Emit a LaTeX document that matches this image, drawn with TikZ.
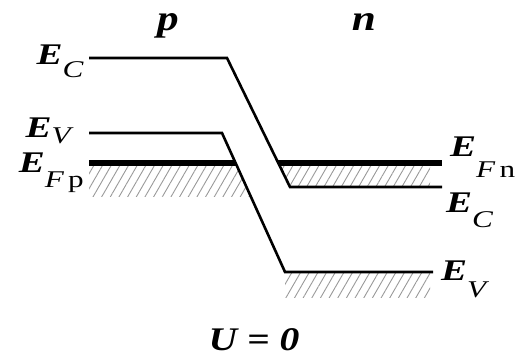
\documentclass[tikz,border=0pt]{standalone}
\usepackage{fontspec}
\setmainfont{Liberation Serif}
\newfontfamily\labfont{Liberation Serif}[FakeStretch=1.3]
\newfontfamily\sidefont{Liberation Serif}[FakeStretch=1.2]
\usetikzlibrary{patterns.meta}

% energy label: E with a dropped subscript
\newcommand{\Elab}[2]{{\fontsize{30}{30}\selectfont\textbf{\textit{E}}}\raisebox{-#1pt}{\fontsize{24}{24}\selectfont #2}}

\tikzset{
  level/.style={line width=2.6pt, line join=miter},
  fermi/.style={line width=6pt},
  hatch/.style={pattern={Lines[angle=60, distance=7.5pt, line width=0.9pt]}, pattern color=gray!80},
  elab/.style={inner sep=0pt, font=\labfont},
  side/.style={anchor=base, inner sep=0pt, font=\sidefont\fontsize{36}{36}\selectfont\bfseries\itshape}
}

\begin{document}
\begin{tikzpicture}[x=1pt, y=-1pt]
\useasboundingbox (0,0) rectangle (527,358);

% corners of the bands
\coordinate (cp) at (89,58);
\coordinate (ck) at (227,58);
\coordinate (cb) at (290,187);
\coordinate (cn) at (442,187);
\coordinate (vp) at (89,133);
\coordinate (vk) at (222,133);
\coordinate (vb) at (285,272);
\coordinate (vn) at (433,272);
\coordinate (fp) at (89,163);
\coordinate (fq) at (235.6,163);
\coordinate (fm) at (278,163);
\coordinate (fn) at (442,163);

% hatched regions
\fill[hatch] (fp) -- (fq) -- (249.3,197) -- (89,197) -- cycle;
\fill[hatch] (fm) -- (430,163) -- (430,187) -- (cb) -- cycle;
\fill[hatch] (vb) -- (430,272) -- (430,297) -- (285,297) -- cycle;

% bands
\draw[level] (cp) -- (ck) -- (cb) -- (cn);
\draw[level] (vp) -- (vk) -- (vb) -- (vn);
\draw[fermi] (fp) -- (fq);
\draw[fermi] (fm) -- (fn);

% labels
\node[side] (p) at (168,31) {p};
\node[side] (n) at (364,31) {n};
\node[elab, anchor=base east] (ecl) at (84,65) {\Elab{13}{\textit{C}}};
\node[elab, anchor=base east] (evl) at (74,138) {\Elab{6}{\textit{V}}};
\node[elab, anchor=base east] (efl) at (84,173) {\Elab{15}{\textit{F}\,p}};
\node[elab, anchor=base west] (efr) at (450,157) {\Elab{21}{\textit{F}\,n}};
\node[elab, anchor=base west] (ecr) at (446,212) {\Elab{15}{\textit{C}}};
\node[elab, anchor=base west] (evr) at (441,280) {\Elab{17}{\textit{V}}};
\node[side, font=\sidefont\fontsize{33}{33}\selectfont\bfseries\itshape] (u) at (254,350) {U = 0};
\end{tikzpicture}
\end{document}
